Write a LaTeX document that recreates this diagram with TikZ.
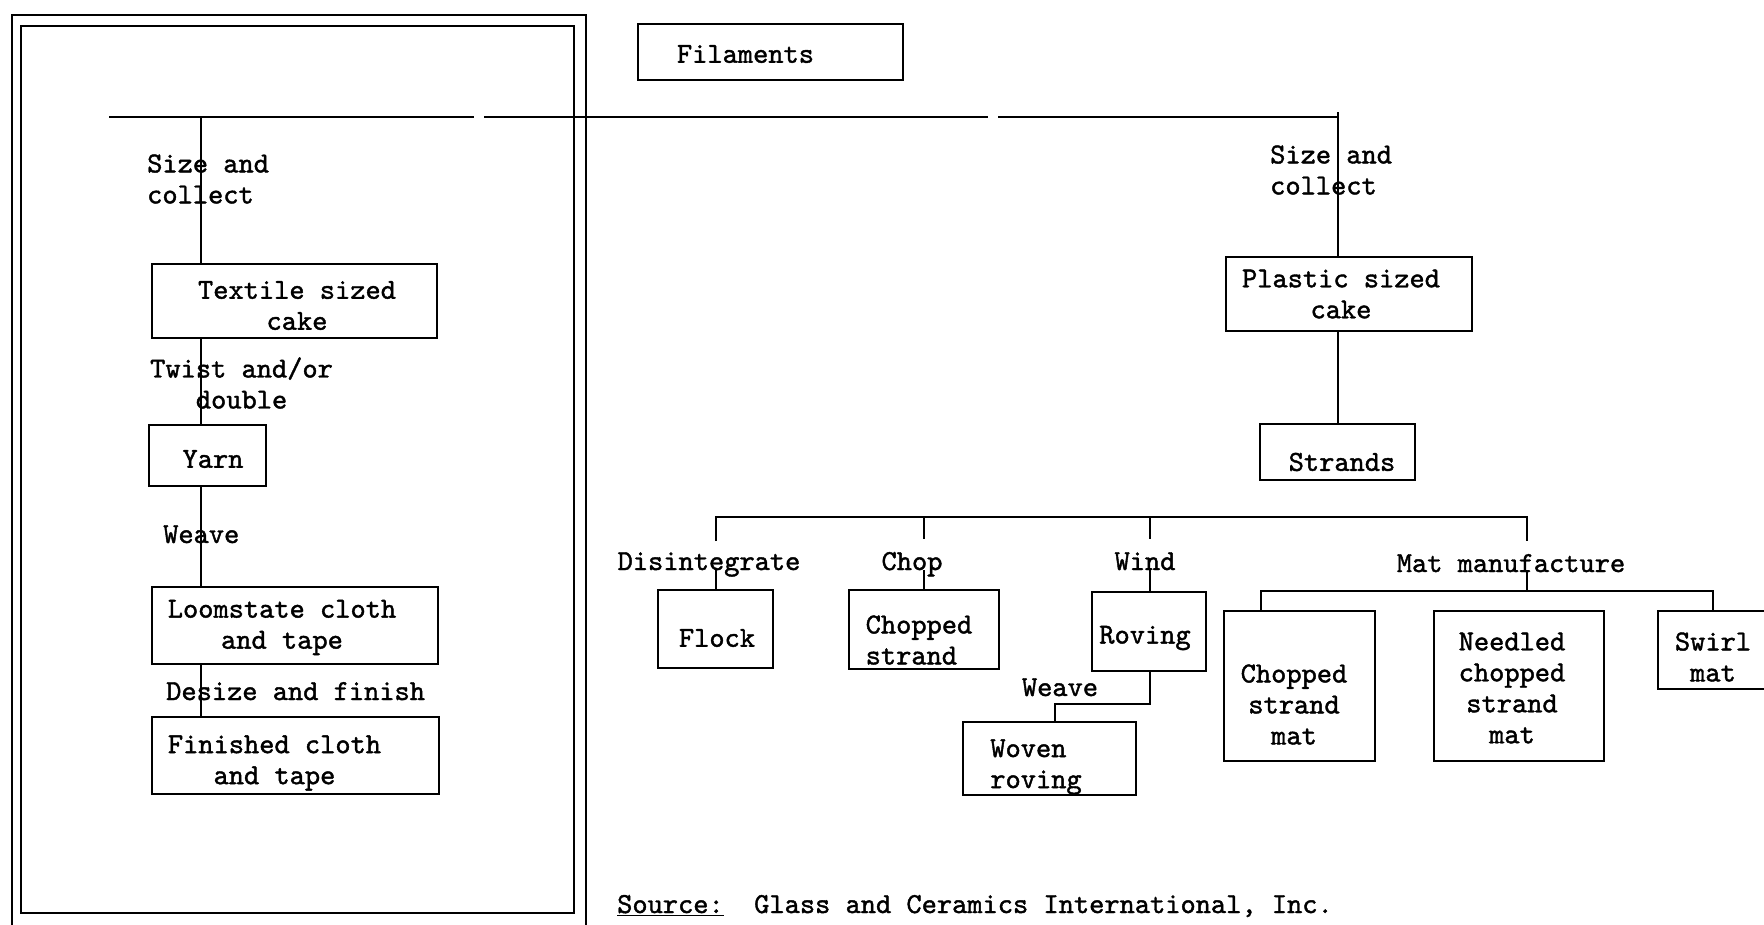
\documentclass[tikz,border=0pt]{standalone}
\usepackage{fontspec}
\setmonofont{lmmono10-regular}[Extension=.otf,FakeBold=1.4]
\newcommand\twfont{\ttfamily\fontsize{29}{31}\selectfont}
\begin{document}
\begin{tikzpicture}[x=1pt,y=-1pt,
  every node/.style={font=\twfont, inner sep=0pt},
  box/.style={draw, line width=2.6pt, rectangle, inner sep=0pt},
  link/.style={line width=2.2pt},
  frame/.style={line width=2pt},
  rule/.style={line width=1.6pt, dash pattern=on 365pt off 10pt on 504pt off 10pt},
]
\useasboundingbox (0,0) rectangle (1764,924);

% double frame round the textile branch
\draw[frame] (12,15) rectangle (586,960);
\draw[frame] (21,26) rectangle (574,913);

% boxes
\node[box, minimum width=265, minimum height=56,
  label={[xshift=-25,yshift=-2]center:Filaments}] (fil) at (770.5,52) {};
\node[box, minimum width=285, minimum height=74,
  label={[align=center,xshift=2.5,yshift=-4.5]center:{Textile sized\\cake}}] (tex) at (294.5,301) {};
\node[box, minimum width=117, minimum height=61,
  label={[xshift=5.5,yshift=-3.5]center:Yarn}] (yarn) at (207.5,455.5) {};
\node[box, minimum width=286, minimum height=77,
  label={[align=center,xshift=-13,yshift=-2]center:{Loomstate cloth\\and tape}}] (loom) at (295,625.5) {};
\node[box, minimum width=287, minimum height=77,
  label={[align=center,xshift=-21,yshift=-7.5]center:{Finished cloth\\and tape}}] (fin) at (295.5,755.5) {};
\node[box, minimum width=246, minimum height=74,
  label={[align=center,xshift=-8]center:{Plastic sized\\cake}}] (plas) at (1349,294) {};
\node[box, minimum width=155, minimum height=56,
  label={[xshift=4.5,yshift=-10]center:Strands}] (str) at (1337.5,452) {};
\node[box, minimum width=115, minimum height=78,
  label={[xshift=1.5,yshift=-9]center:Flock}] (flock) at (715.5,629) {};
\node[box, minimum width=150, minimum height=79,
  label={[align=left,xshift=-5,yshift=-10.5]center:{Chopped\\strand}}] (chs) at (924,629.5) {};
\node[box, minimum width=114, minimum height=79,
  label={[xshift=-4,yshift=-6.5]center:Roving}] (rov) at (1149,631.5) {};
\node[box, minimum width=173, minimum height=73,
  label={[align=left,xshift=-13.5,yshift=-8.5]center:{Woven\\roving}}] (wov) at (1049.5,758.5) {};
\node[box, minimum width=151, minimum height=150,
  label={[align=center,xshift=-5.5,yshift=-18.5]center:{Chopped\\strand\\mat}}] (csm) at (1299.5,686) {};
\node[box, minimum width=170, minimum height=150,
  label={[align=center,xshift=-7,yshift=-2]center:{Needled\\chopped\\strand\\mat}}] (ncsm) at (1519,686) {};
\node[box, minimum width=112, minimum height=78,
  label={[align=center,xshift=-1,yshift=-7]center:{Swirl\\mat}}] (swirl) at (1714,650) {};

% free labels
\node[anchor=west, align=left] (sc1) at (147,179) {Size and\\collect};
\node[anchor=west, align=left] (tw) at (150,383) {Twist and/or\\\phantom{Twi}double};
\node[anchor=base west] (wv1) at (163,543) {Weave};
\node[anchor=base west] (dz) at (166,700) {Desize and finish};
\node[anchor=west, align=left] (sc2) at (1270,170) {Size and\\collect};
\node[anchor=base] (dis) at (709,570) {Disintegrate};
\node[anchor=base] (chop) at (912,570) {Chop};
\node[anchor=base] (wind) at (1145,570) {Wind};
\node[anchor=base] (matm) at (1511,572) {Mat manufacture};
\node[anchor=base] (wv2) at (1060,696) {Weave};
\node[anchor=base west] (src) at (617,913) {\underline{Source:}~~Glass and Ceramics International, Inc.};

% filament rule and the two sizing branches
\coordinate (hl) at (109,117);
\coordinate (hr) at (1339,117);
\coordinate (jl) at (201,117);
\coordinate (jr) at (1338,112);
\draw[rule] (hl) -- (hr);
\draw[link] (jl) -- (jl |- tex.north);
\draw[link] (jr) -- (jr |- plas.north);
\draw[link] (tex.south -| jl) -- (yarn.north -| jl);
\draw[link] (yarn.south -| jl) -- (loom.north -| jl);
\draw[link] (loom.south -| jl) -- (fin.north -| jl);
\draw[link] (plas.south -| jr) -- (str.north -| jr);

% strand bus
\coordinate (b1) at (716,517);
\coordinate (b2) at (924,517);
\coordinate (b3) at (1150,517);
\coordinate (b4) at (1527,517);
\draw[link] ([yshift=-24pt]b1) -- (b1) -- (b4) -- ([yshift=-24pt]b4);
\draw[link] (b2) -- ([yshift=-22pt]b2);
\draw[link] (b3) -- ([yshift=-22pt]b3);
\draw[link] (dis.base -| b1) -- (flock.north -| b1);
\draw[link] (chop.base -| b2) -- (chs.north -| b2);
\draw[link] (wind.base -| b3) -- (rov.north -| b3);

% weave roving
\coordinate (wk) at (1055,704);
\draw[link] (rov.south -| b3) |- (wk) -- (wk |- wov.north);

% mat manufacture
\coordinate (m0) at (1527,591);
\coordinate (m1) at (1261,591);
\coordinate (m2) at (1713,591);
\draw[link] (matm.base -| b4) -- (m0);
\draw[link] (m1 |- csm.north) -- (m1) -- (m2) -- (m2 |- swirl.north);
\end{tikzpicture}
\end{document}
